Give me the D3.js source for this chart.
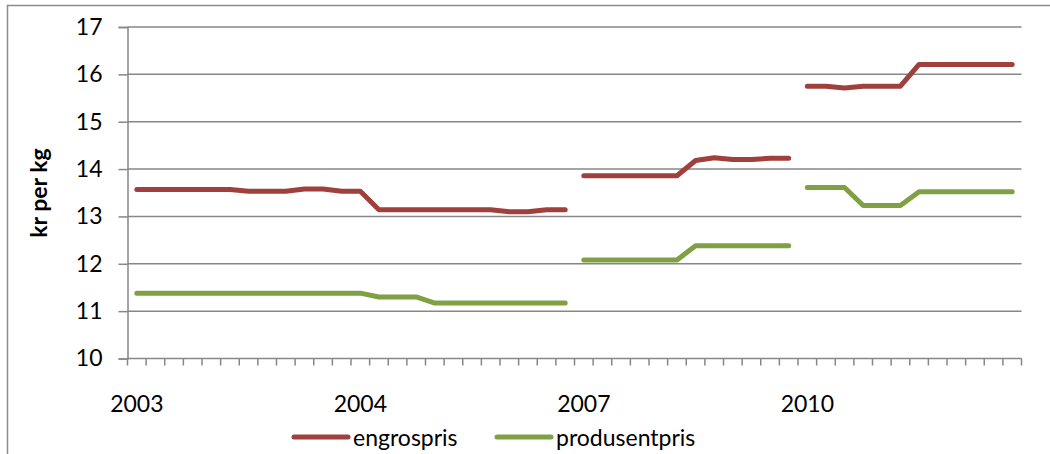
<!DOCTYPE html>
<html>
<head>
<meta charset="utf-8">
<script src="https://cdn.jsdelivr.net/npm/d3@7"></script>
<style>
  body { margin: 0; background: #fff; }
  text { font-family: Lato, "Open Sans", sans-serif; fill: #000; }
</style>
</head>
<body>
<svg id="chart" width="1050" height="454"></svg>
<script>
// Category labels (one slot per month, label only on the first month of a block)
const categoryLabels = [
  '2003', '', '', '', '', '', '', '', '', '', '', '',
  '2004', '', '', '', '', '', '', '', '', '', '', '',
  '2007', '', '', '', '', '', '', '', '', '', '', '',
  '2010', '', '', '', '', '', '', '', '', '', '', ''
];

// Which line segment each category belongs to (lines break between segments)
const segmentOf = [
  0, 0, 0, 0, 0, 0, 0, 0, 0, 0, 0, 0,
  0, 0, 0, 0, 0, 0, 0, 0, 0, 0, 0, 0,
  1, 1, 1, 1, 1, 1, 1, 1, 1, 1, 1, 1,
  2, 2, 2, 2, 2, 2, 2, 2, 2, 2, 2, 2
];

const engrospris = [
  13.57, 13.57, 13.57, 13.57, 13.57, 13.57, 13.53, 13.53, 13.53, 13.58, 13.58, 13.53,
  13.53, 13.14, 13.14, 13.14, 13.14, 13.14, 13.14, 13.14, 13.10, 13.10, 13.14, 13.14,
  13.86, 13.86, 13.86, 13.86, 13.86, 13.86, 14.18, 14.24, 14.20, 14.20, 14.23, 14.23,
  15.75, 15.75, 15.71, 15.75, 15.75, 15.75, 16.21, 16.21, 16.21, 16.21, 16.21, 16.21
];

const produsentpris = [
  11.38, 11.38, 11.38, 11.38, 11.38, 11.38, 11.38, 11.38, 11.38, 11.38, 11.38, 11.38,
  11.38, 11.30, 11.30, 11.30, 11.17, 11.17, 11.17, 11.17, 11.17, 11.17, 11.17, 11.17,
  12.08, 12.08, 12.08, 12.08, 12.08, 12.08, 12.38, 12.38, 12.38, 12.38, 12.38, 12.38,
  13.61, 13.61, 13.61, 13.23, 13.23, 13.23, 13.52, 13.52, 13.52, 13.52, 13.52, 13.52
];

const yTicks = [10, 11, 12, 13, 14, 15, 16, 17];

const series = [
  { name: 'engrospris', values: engrospris, color: '#A0403D' },
  { name: 'produsentpris', values: produsentpris, color: '#80A044' }
];

const svg = d3.select('#chart');
const margin = { top: 27, right: 28.5, bottom: 95.5, left: 127.5 };
const width = 1050, height = 454;
const innerW = width - margin.left - margin.right;
const innerH = height - margin.top - margin.bottom;
const gridColor = '#878787';
const fontSize = 23;

// outer chart border (right and bottom fall outside the picture)
svg.append('rect')
  .attr('x', 7.5).attr('y', 5.5)
  .attr('width', 1100).attr('height', 500)
  .attr('fill', 'none')
  .attr('stroke', '#8c8c8c')
  .attr('stroke-width', 1.5);

const idx = d3.range(categoryLabels.length);
const x = d3.scaleBand().domain(idx).range([0, innerW]).padding(0);
const y = d3.scaleLinear().domain([10, 17]).range([innerH, 0]);

const g = svg.append('g')
  .attr('transform', `translate(${margin.left},${margin.top})`);

// gridlines
g.selectAll('.grid')
  .data(yTicks.filter(t => t > 10))
  .enter().append('line')
  .attr('x1', 0).attr('x2', innerW)
  .attr('y1', d => y(d)).attr('y2', d => y(d))
  .attr('stroke', gridColor)
  .attr('stroke-width', 1.5);

// y axis
const yAxis = g.append('g')
  .call(d3.axisLeft(y).tickValues(yTicks).tickFormat(d3.format('d')).tickSize(9).tickPadding(16));
yAxis.select('.domain').attr('stroke', gridColor).attr('stroke-width', 1.5);
yAxis.selectAll('.tick line').attr('stroke', gridColor).attr('stroke-width', 1.5);
yAxis.selectAll('.tick text').attr('font-size', fontSize).attr('font-family', 'Lato');

// x axis: ticks at category boundaries
const xAxis = g.append('g').attr('transform', `translate(0,${innerH})`);
xAxis.append('line')
  .attr('x1', 0).attr('x2', innerW)
  .attr('stroke', gridColor).attr('stroke-width', 1.5);
xAxis.selectAll('.xtick')
  .data(d3.range(categoryLabels.length + 1))
  .enter().append('line')
  .attr('x1', d => d === categoryLabels.length ? innerW : x(d))
  .attr('x2', d => d === categoryLabels.length ? innerW : x(d))
  .attr('y1', 0).attr('y2', 7)
  .attr('stroke', gridColor).attr('stroke-width', 1.5);
xAxis.selectAll('.xlabel')
  .data(idx.filter(i => categoryLabels[i] !== ''))
  .enter().append('text')
  .attr('x', d => x(d) + x.bandwidth() / 2)
  .attr('y', 53)
  .attr('text-anchor', 'middle')
  .attr('font-size', fontSize)
  .text(d => categoryLabels[d]);

// lines, broken between segments
const line = d3.line()
  .x(d => x(d.i) + x.bandwidth() / 2)
  .y(d => y(d.v));

const segments = Array.from(new Set(segmentOf));
series.forEach(s => {
  segments.forEach(seg => {
    const pts = idx.filter(i => segmentOf[i] === seg).map(i => ({ i, v: s.values[i] }));
    g.append('path')
      .datum(pts)
      .attr('d', line)
      .attr('fill', 'none')
      .attr('stroke', s.color)
      .attr('stroke-width', 5)
      .attr('stroke-linecap', 'round')
      .attr('stroke-linejoin', 'round');
  });
});

// y axis title
svg.append('text')
  .attr('transform', 'translate(47,193) rotate(-90)')
  .attr('text-anchor', 'middle')
  .attr('font-size', 23)
  .attr('font-weight', 'bold')
  .text('kr per kg');

// legend
const legend = svg.append('g').attr('transform', 'translate(294,437)');
const legendX = [0, 203];
series.forEach((s, i) => {
  const lg = legend.append('g').attr('transform', `translate(${legendX[i]},0)`);
  lg.append('line')
    .attr('x1', 0).attr('x2', 54)
    .attr('stroke', s.color)
    .attr('stroke-width', 5)
    .attr('stroke-linecap', 'round');
  lg.append('text')
    .attr('x', 59).attr('y', 9)
    .attr('font-size', fontSize)
    .text(s.name);
});
</script>
</body>
</html>
